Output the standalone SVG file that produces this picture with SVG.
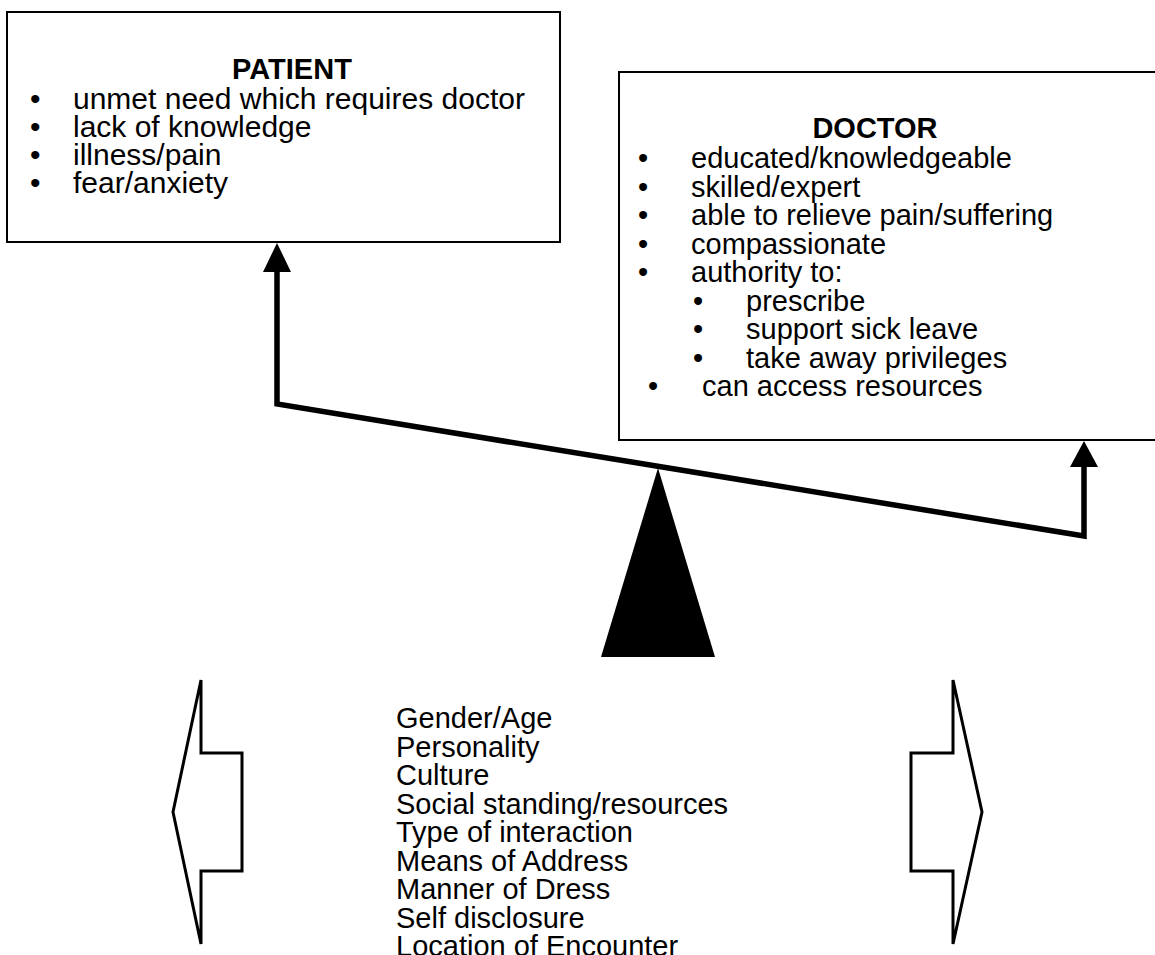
<svg xmlns="http://www.w3.org/2000/svg" width="1155" height="955" viewBox="0 0 1155 955">
  <style>
    text { font-family: "Liberation Sans", Arial, sans-serif; font-size: 29px; fill: #000; }
    .title { font-weight: bold; text-anchor: middle; }
    .pt { font-size: 30px; }
    .box { fill: #fff; stroke: #000; stroke-width: 2; }
    .beam { fill: none; stroke: #000; stroke-width: 5.5; stroke-linejoin: miter; }
    .hollow { fill: #fff; stroke: #000; stroke-width: 3; stroke-linejoin: miter; }
  </style>
  <rect width="1155" height="955" fill="#fff"/>

  <g id="patient">
    <rect class="box" x="7" y="12" width="553" height="230"/>
    <text class="title" x="292" y="79">PATIENT</text>
    <text class="pt" x="30" y="109">•</text><text class="pt" x="73" y="109">unmet need which requires doctor</text>
    <text class="pt" x="30" y="137">•</text><text class="pt" x="73" y="137">lack of knowledge</text>
    <text class="pt" x="30" y="165">•</text><text class="pt" x="73" y="165">illness/pain</text>
    <text class="pt" x="30" y="193">•</text><text class="pt" x="73" y="193">fear/anxiety</text>
  </g>

  <g id="doctor">
    <rect class="box" x="619" y="72" width="560" height="368"/>
    <text class="title" x="875" y="138">DOCTOR</text>
    <text x="638" y="168">•</text><text x="691" y="168">educated/knowledgeable</text>
    <text x="638" y="196.5">•</text><text x="691" y="196.5">skilled/expert</text>
    <text x="638" y="225">•</text><text x="691" y="225">able to relieve pain/suffering</text>
    <text x="638" y="253.5">•</text><text x="691" y="253.5">compassionate</text>
    <text x="638" y="282">•</text><text x="691" y="282">authority to:</text>
    <text x="693" y="310.5">•</text><text x="746" y="310.5">prescribe</text>
    <text x="693" y="339">•</text><text x="746" y="339">support sick leave</text>
    <text x="693" y="367.5">•</text><text x="746" y="367.5">take away privileges</text>
    <text x="648" y="396">•</text><text x="702" y="396">can access resources</text>
  </g>

  <g id="fulcrum">
    <polygon points="658,468 601,657 715,657" fill="#000"/>
  </g>

  <g id="connectors">
    <polyline class="beam" points="277,270 277,404 1084,536 1084,464"/>
    <polygon points="277,243 263,272 291,272" fill="#000"/>
    <polygon points="1084,441 1070,467 1098,467" fill="#000"/>
  </g>

  <g id="left-arrow">
    <polygon class="hollow" points="201,680 201,753 242,753 242,871 201,871 201,944 173,812"/>
  </g>
  <g id="right-arrow">
    <polygon class="hollow" points="953,680 953,753 911,753 911,871 953,871 953,944 982,812"/>
  </g>

  <g id="factors">
    <text x="396" y="728">Gender/Age</text>
    <text x="396" y="756.5">Personality</text>
    <text x="396" y="785">Culture</text>
    <text x="396" y="813.5">Social standing/resources</text>
    <text x="396" y="842">Type of interaction</text>
    <text x="396" y="870.5">Means of Address</text>
    <text x="396" y="899">Manner of Dress</text>
    <text x="396" y="927.5">Self disclosure</text>
    <text x="396" y="956">Location of Encounter</text>
  </g>
</svg>
